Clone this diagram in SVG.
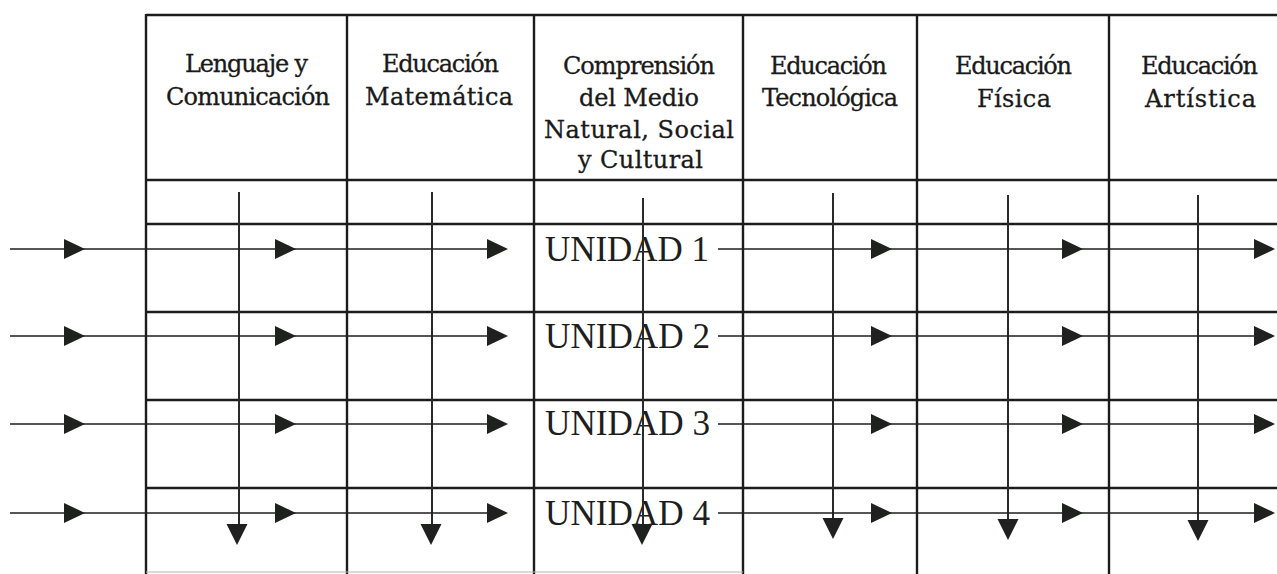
<svg xmlns="http://www.w3.org/2000/svg" xmlns:xlink="http://www.w3.org/1999/xlink" width="1277" height="574" viewBox="0 0 1277 574">
<style>
.grid{stroke:#1c1c1c;stroke-width:2.4;fill:none}
.hdr{font-family:"DejaVu Serif","Liberation Serif",serif;font-size:24px;fill:#1a1a1a;stroke:#1a1a1a;stroke-width:0.3;text-anchor:start}
.uni{font-family:"Liberation Serif","Times New Roman",serif;font-size:36px;fill:#1e1e1e}
.flow{stroke:#1e1e1e;stroke-width:1.7;fill:none}
.vflow{stroke:#2a2a2a;stroke-width:2;fill:none}
.ah{fill:#1e211e}
</style>
<defs>
<path id="ar" d="M-21,-10 L0,0 L-21,10 Z"/>
<path id="ad" d="M-10.5,-21 L0,0 L10.5,-21 Z"/>
</defs>
<rect width="1277" height="574" fill="#fff"/>
<g id="table">
<line class="grid" x1="146" y1="15" x2="1277" y2="15"/>
<line class="grid" x1="146" y1="180" x2="1277" y2="180"/>
<line class="grid" x1="146" y1="224" x2="1277" y2="224"/>
<line class="grid" x1="146" y1="312" x2="1277" y2="312"/>
<line class="grid" x1="146" y1="400" x2="1277" y2="400"/>
<line class="grid" x1="146" y1="488" x2="1277" y2="488"/>
<line class="grid" x1="146" y1="14" x2="146" y2="574"/>
<line class="grid" x1="347" y1="14" x2="347" y2="574"/>
<line class="grid" x1="534" y1="14" x2="534" y2="574"/>
<line class="grid" x1="743" y1="14" x2="743" y2="574"/>
<line class="grid" x1="917" y1="14" x2="917" y2="574"/>
<line class="grid" x1="1109" y1="14" x2="1109" y2="574"/>
<line x1="146" y1="572" x2="743" y2="572" stroke="#b5b5b5" stroke-width="1"/>
</g>
<g id="col-lenguaje">
<text class="hdr" x="185" y="72" textLength="123" lengthAdjust="spacing">Lenguaje y</text>
<text class="hdr" x="166" y="105" textLength="164" lengthAdjust="spacing">Comunicación</text>
</g>
<g id="col-matematica">
<text class="hdr" x="382" y="72" textLength="117" lengthAdjust="spacing">Educación</text>
<text class="hdr" x="365" y="105" textLength="148" lengthAdjust="spacing">Matemática</text>
</g>
<g id="col-comprension">
<text class="hdr" x="563" y="74" textLength="152" lengthAdjust="spacing">Comprensión</text>
<text class="hdr" x="579" y="106" textLength="120" lengthAdjust="spacing">del Medio</text>
<text class="hdr" x="544" y="138" textLength="190" lengthAdjust="spacing">Natural, Social</text>
<text class="hdr" x="578" y="168" textLength="125" lengthAdjust="spacing">y Cultural</text>
</g>
<g id="col-tecnologica">
<text class="hdr" x="770" y="74" textLength="117" lengthAdjust="spacing">Educación</text>
<text class="hdr" x="762" y="106" textLength="136" lengthAdjust="spacing">Tecnológica</text>
</g>
<g id="col-fisica">
<text class="hdr" x="955" y="74" textLength="117" lengthAdjust="spacing">Educación</text>
<text class="hdr" x="977" y="107" textLength="74" lengthAdjust="spacing">Física</text>
</g>
<g id="col-artistica">
<text class="hdr" x="1141" y="74" textLength="117" lengthAdjust="spacing">Educación</text>
<text class="hdr" x="1145" y="107" textLength="111" lengthAdjust="spacing">Artística</text>
</g>
<g id="unidad-1"><text class="uni" x="545" y="261" textLength="164" lengthAdjust="spacingAndGlyphs">UNIDAD 1</text></g>
<g id="unidad-2"><text class="uni" x="545" y="348" textLength="165" lengthAdjust="spacingAndGlyphs">UNIDAD 2</text></g>
<g id="unidad-3"><text class="uni" x="545" y="435" textLength="165" lengthAdjust="spacingAndGlyphs">UNIDAD 3</text></g>
<g id="unidad-4"><text class="uni" x="545" y="525" textLength="165" lengthAdjust="spacingAndGlyphs">UNIDAD 4</text></g>
<g id="connectors">
<line class="vflow" x1="239" y1="192" x2="239" y2="528"/>
<line class="vflow" x1="432" y1="192" x2="432" y2="528"/>
<line class="vflow" x1="643" y1="198" x2="643" y2="528"/>
<line class="vflow" x1="833" y1="193" x2="833" y2="522"/>
<line class="vflow" x1="1008" y1="195" x2="1008" y2="523"/>
<line class="vflow" x1="1198" y1="195" x2="1198" y2="524"/>
<use href="#ad" class="ah" x="237" y="545"/>
<use href="#ad" class="ah" x="431" y="545"/>
<use href="#ad" class="ah" x="642" y="545"/>
<use href="#ad" class="ah" x="833" y="539"/>
<use href="#ad" class="ah" x="1008" y="540"/>
<use href="#ad" class="ah" x="1198" y="541"/>
<line class="flow" x1="10" y1="249" x2="500" y2="249"/>
<line class="flow" x1="718" y1="249" x2="1268" y2="249"/>
<line class="flow" x1="10" y1="336" x2="500" y2="336"/>
<line class="flow" x1="718" y1="336" x2="1268" y2="336"/>
<line class="flow" x1="10" y1="424" x2="500" y2="424"/>
<line class="flow" x1="718" y1="424" x2="1268" y2="424"/>
<line class="flow" x1="10" y1="513" x2="500" y2="513"/>
<line class="flow" x1="718" y1="513" x2="1268" y2="513"/>
<use href="#ar" class="ah" x="85" y="249"/><use href="#ar" class="ah" x="296" y="249"/><use href="#ar" class="ah" x="508" y="249"/>
<use href="#ar" class="ah" x="892" y="249"/><use href="#ar" class="ah" x="1083" y="249"/><use href="#ar" class="ah" x="1275" y="249"/>
<use href="#ar" class="ah" x="85" y="336"/><use href="#ar" class="ah" x="296" y="336"/><use href="#ar" class="ah" x="508" y="336"/>
<use href="#ar" class="ah" x="892" y="336"/><use href="#ar" class="ah" x="1083" y="336"/><use href="#ar" class="ah" x="1275" y="336"/>
<use href="#ar" class="ah" x="85" y="424"/><use href="#ar" class="ah" x="296" y="424"/><use href="#ar" class="ah" x="508" y="424"/>
<use href="#ar" class="ah" x="892" y="424"/><use href="#ar" class="ah" x="1083" y="424"/><use href="#ar" class="ah" x="1275" y="424"/>
<use href="#ar" class="ah" x="85" y="513"/><use href="#ar" class="ah" x="296" y="513"/><use href="#ar" class="ah" x="508" y="513"/>
<use href="#ar" class="ah" x="892" y="513"/><use href="#ar" class="ah" x="1083" y="513"/><use href="#ar" class="ah" x="1275" y="513"/>
</g>
</svg>
